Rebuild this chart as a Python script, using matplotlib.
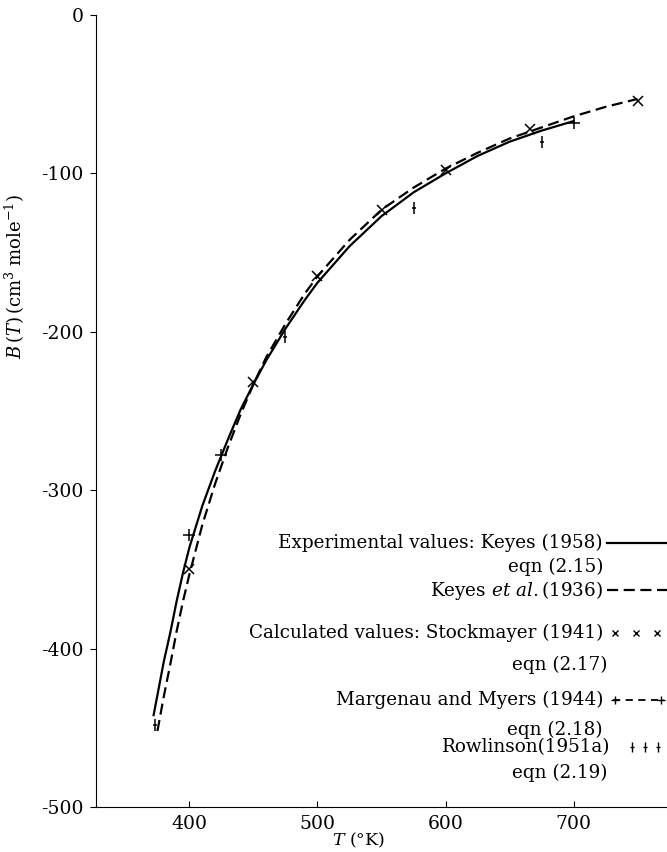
import matplotlib
matplotlib.use("Agg")
import matplotlib.pyplot as plt

plt.rcParams['font.family'] = 'DejaVu Serif'
plt.rcParams['mathtext.fontset'] = 'dejavuserif'
plt.rcParams['axes.unicode_minus'] = False

# Keyes (1958), eqn (2.15) - solid
T_solid = [372, 376, 380, 385, 390, 395, 400, 410, 420, 430, 440, 450, 460, 475,
           490, 500, 525, 550, 575, 600, 625, 650, 675, 700]
B_solid = [-442, -425, -408, -390, -370, -352, -336, -310, -288, -268, -249, -233,
           -218, -198, -180, -169, -146, -127, -112, -100, -89, -80, -73, -67]

# Keyes et al. (1936) - dashed
T_dash = [375, 380, 385, 390, 395, 400, 410, 420, 430, 440, 450, 460, 475, 490,
          500, 525, 550, 575, 600, 625, 650, 675, 700, 725, 750]
B_dash = [-452, -430, -410, -389, -370, -353, -322, -296, -273, -252, -233, -216,
          -195, -176, -165, -142, -123, -109, -97, -87, -78, -71, -64, -58, -53]

# Stockmayer (1941), eqn (2.17)
T_stock = [400, 450, 500, 550, 600, 666, 750]
B_stock = [-350, -232, -165, -123, -98, -72, -54]

# Margenau and Myers (1944), eqn (2.18)
T_marg = [400, 425, 700]
B_marg = [-328, -278, -68]

# Rowlinson (1951a), eqn (2.19)
T_rowl = [373, 475, 575, 675]
B_rowl = [-448, -203, -122, -80]

yticks = [0, -100, -200, -300, -400, -500]
xticks = [400, 500, 600, 700]

W, H = 667, 852
fig = plt.figure(figsize=(W / 100, H / 100), dpi=100)
ax = fig.add_axes([96 / W, 45 / H, 571 / W, 792 / H])

ax.plot(T_solid, B_solid, color='black', lw=1.6)
ax.plot(T_dash, B_dash, color='black', lw=1.6, ls=(0, (5, 2.5)))
ax.plot(T_stock, B_stock, ls='none', marker='x', ms=6.5, mew=1.1, color='black')
ax.plot(T_marg, B_marg, ls='none', marker='+', ms=8, mew=1.1, color='black')
ax.plot(T_rowl, B_rowl, ls='none', marker='|', ms=9, mew=1.1, color='black')
ax.plot(T_rowl, B_rowl, ls='none', marker='_', ms=3, mew=1.1, color='black')

ax.set_xlim(327, 773)
ax.set_ylim(-500, 0)
ax.set_xticks(xticks)
ax.set_yticks(yticks)
ax.spines['top'].set_visible(False)
ax.spines['right'].set_visible(False)
ax.tick_params(axis='x', direction='in', length=4, labelsize=13.5, pad=6)
ax.tick_params(axis='y', direction='out', length=4, labelsize=13.5, pad=5)

ax.set_xlabel(r'$T$ (°K)', fontsize=12.5)
ax.xaxis.set_label_coords(0.46, -0.03)
ax.set_ylabel(r'$B\,(T)\,(\mathrm{cm}^3\ \mathrm{mole}^{-1})$', fontsize=13)
ax.yaxis.set_label_coords(-0.12, 0.67)

# legend block, right aligned text with samples at the right edge
fs = 13.2
def ftxt(y, s, x=603):
    fig.text(x / W, 1 - y / H, s, ha='right', va='center', fontsize=fs)

ftxt(543, 'Experimental values: Keyes (1958)')
ftxt(567, 'eqn (2.15)')
ftxt(590, r'Keyes $\mathit{et\ al.}$(1936)')
ftxt(633, 'Calculated values: Stockmayer (1941)')
ftxt(665, 'eqn (2.17)', 607)
ftxt(700, 'Margenau and Myers (1944)')
ftxt(730, 'eqn (2.18)')
ftxt(747, 'Rowlinson(1951a)', 610)
ftxt(773, 'eqn (2.19)', 607)

def fx(px):
    return [p / W for p in px]

def fy(py, n):
    return [1 - py / H] * n

tf = fig.transFigure
ax.plot(fx([607, 667]), fy(543, 2), color='black', lw=1.6, transform=tf, clip_on=False)
ax.plot(fx([607, 667]), fy(590, 2), color='black', lw=1.6, ls=(0, (5, 2.5)),
        transform=tf, clip_on=False)
ax.plot(fx([615, 636, 657]), fy(633, 3), ls='none', marker='x', ms=5, mew=1.0,
        color='black', transform=tf, clip_on=False)
ax.plot(fx([613, 664]), fy(700, 2), color='black', lw=1.3, ls=(0, (4, 3)),
        transform=tf, clip_on=False)
ax.plot(fx([615, 661]), fy(700, 2), ls='none', marker='+', ms=6, mew=1.0,
        color='black', transform=tf, clip_on=False)
ax.plot(fx([632, 645, 658]), fy(747, 3), ls='none', marker='|', ms=7, mew=1.0,
        color='black', transform=tf, clip_on=False)
ax.plot(fx([632, 645, 658]), fy(747, 3), ls='none', marker='_', ms=3, mew=1.0,
        color='black', transform=tf, clip_on=False)

fig.savefig('out.png', dpi=100)
